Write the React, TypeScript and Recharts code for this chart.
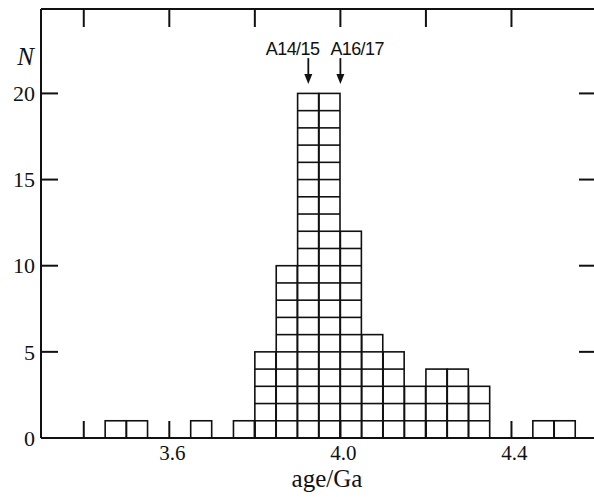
import React from 'react';
import { BarChart, Bar, XAxis, YAxis, ReferenceLine } from 'recharts';

// histogram bins (0.05 Ga wide), start of each bin
const binStarts = [
  3.3, 3.35, 3.4, 3.45, 3.5, 3.55, 3.6, 3.65, 3.7, 3.75, 3.8, 3.85, 3.9,
  3.95, 4.0, 4.05, 4.1, 4.15, 4.2, 4.25, 4.3, 4.35, 4.4, 4.45, 4.5, 4.55,
];
const counts = [
  0, 0, 0, 1, 1, 0, 0, 1, 0, 1, 5, 10, 20,
  20, 12, 6, 5, 3, 4, 4, 3, 0, 0, 1, 1, 0,
];
const binWidth = 0.05;

const ageTicks = [3.4, 3.6, 3.8, 4.0, 4.2, 4.4];
const ageTickLabels = ['', '3.6', '', '4.0', '', '4.4'];
const countTicks = [0, 5, 10, 15, 20];
const sideTicks = [5, 10, 15, 20];

const markerAges = [3.925, 4.0];
const markerNames = ['A14/15', 'A16/17'];

const data = binStarts.map((b, i) => ({ bin: b.toFixed(2), mid: b + binWidth / 2, n: counts[i] }));

const INK = '#111';
const SERIF = '"Liberation Serif", "Times New Roman", serif';
const SANS = '"Liberation Sans", Arial, sans-serif';

// each bar is a column of unit squares
const SquareStack = (props: any) => {
  const { x, y, width, height, payload } = props;
  const n = payload?.n ?? 0;
  if (!n || !height) return null;
  const unit = height / n;
  const rows = [];
  for (let k = 1; k < n; k++) {
    rows.push(<line key={k} x1={x} x2={x + width} y1={y + k * unit} y2={y + k * unit} />);
  }
  return (
    <g stroke={INK} strokeWidth={1.6} fill="none">
      <rect x={x} y={y} width={width} height={height} />
      {rows}
    </g>
  );
};

const LeftTick = ({ x, y, payload }: any) => (
  <g>
    {payload.value !== 0 && <line x1={x} x2={x + 17} y1={y} y2={y} stroke={INK} strokeWidth={2} />}
    <text x={x - 6} y={y} dy="0.35em" textAnchor="end" fontFamily={SERIF} fontSize={22} fill={INK}>
      {payload.value}
    </text>
  </g>
);

const RightTick = ({ x, y }: any) => (
  <line x1={x} x2={x - 18} y1={y} y2={y} stroke={INK} strokeWidth={2} />
);

const BottomTick = ({ x, y, index }: any) => (
  <g>
    <line x1={x} x2={x} y1={y} y2={y - 17} stroke={INK} strokeWidth={2} />
    {ageTickLabels[index] && (
      <text x={x + 3} y={y + 22} textAnchor="middle" fontFamily={SERIF} fontSize={21} fill={INK}>
        {ageTickLabels[index]}
      </text>
    )}
  </g>
);

const TopTick = ({ x, y }: any) => (
  <line x1={x} x2={x} y1={y} y2={y + 18} stroke={INK} strokeWidth={2} />
);

const makeArrow = (name: string, side: 'left' | 'right') => (p: any) => {
  const { x1, y1, y2 } = p;
  return (
    <g>
      <line x1={x1} x2={x1} y1={y1} y2={y2 - 8} stroke={INK} strokeWidth={1.8} />
      <polygon points={`${x1 - 4},${y2 - 10} ${x1 + 4},${y2 - 10} ${x1},${y2}`} fill={INK} />
      <text
        x={side === 'left' ? x1 + 11 : x1 - 10}
        y={y1 - 3}
        textAnchor={side === 'left' ? 'end' : 'start'}
        fontFamily={SANS}
        fontSize={18}
        letterSpacing={-0.6}
        fill={INK}
      >
        {name}
      </text>
    </g>
  );
};

const NLabel = (p: any) => {
  const vb = p.viewBox;
  return (
    <text x={vb.x + vb.width - 7} y={vb.y + 56} textAnchor="end" fontFamily={SERIF} fontStyle="italic" fontSize={25} fill={INK}>
      N
    </text>
  );
};

const AgeLabel = (p: any) => {
  const vb = p.viewBox;
  return (
    <text x={vb.x + vb.width / 2 + 8} y={vb.y + 49} textAnchor="middle" fontFamily={SERIF} fontSize={25} fill={INK}>
      age/Ga
    </text>
  );
};

export default function App() {
  return (
    <div style={{ position: 'absolute', left: 0, top: 0, width: 594, height: 497, overflow: 'hidden', background: '#fff' }}>
      <BarChart width={600} height={497} data={data} barCategoryGap={0} margin={{ top: 0, right: 0, bottom: 0, left: 0 }}>
        <XAxis xAxisId="cat" dataKey="bin" hide height={0} />
        <XAxis
          xAxisId="num"
          dataKey="mid"
          type="number"
          domain={[3.3, 4.6]}
          allowDataOverflow
          ticks={ageTicks}
          interval={0}
          height={59}
          tickSize={0}
          tickMargin={0}
          tickLine={false}
          tick={<BottomTick />}
          axisLine={{ stroke: INK, strokeWidth: 2 }}
          label={AgeLabel}
        />
        <XAxis
          xAxisId="top"
          orientation="top"
          dataKey="mid"
          type="number"
          domain={[3.3, 4.6]}
          allowDataOverflow
          ticks={ageTicks}
          interval={0}
          height={9}
          tickSize={0}
          tickMargin={0}
          tickLine={false}
          tick={<TopTick />}
          axisLine={{ stroke: INK, strokeWidth: 2 }}
        />
        <YAxis
          yAxisId="left"
          type="number"
          domain={[0, 24.9]}
          allowDataOverflow
          ticks={countTicks}
          interval={0}
          width={41}
          tickSize={0}
          tickMargin={0}
          tickLine={false}
          tick={<LeftTick />}
          axisLine={{ stroke: INK, strokeWidth: 2 }}
          label={NLabel}
        />
        <YAxis
          yAxisId="right"
          orientation="right"
          type="number"
          domain={[0, 24.9]}
          allowDataOverflow
          ticks={sideTicks}
          interval={0}
          width={3}
          tickSize={0}
          tickMargin={0}
          tickLine={false}
          tick={<RightTick />}
          axisLine={{ stroke: INK, strokeWidth: 2 }}
        />
        <Bar xAxisId="cat" yAxisId="left" dataKey="n" shape={<SquareStack />} isAnimationActive={false} />
        {markerAges.map((age, i) => (
          <ReferenceLine
            key={markerNames[i]}
            xAxisId="num"
            yAxisId="left"
            segment={[{ x: age, y: 22.05 }, { x: age, y: 20.55 }]}
            shape={makeArrow(markerNames[i], i === 0 ? 'left' : 'right')}
          />
        ))}
      </BarChart>
    </div>
  );
}
